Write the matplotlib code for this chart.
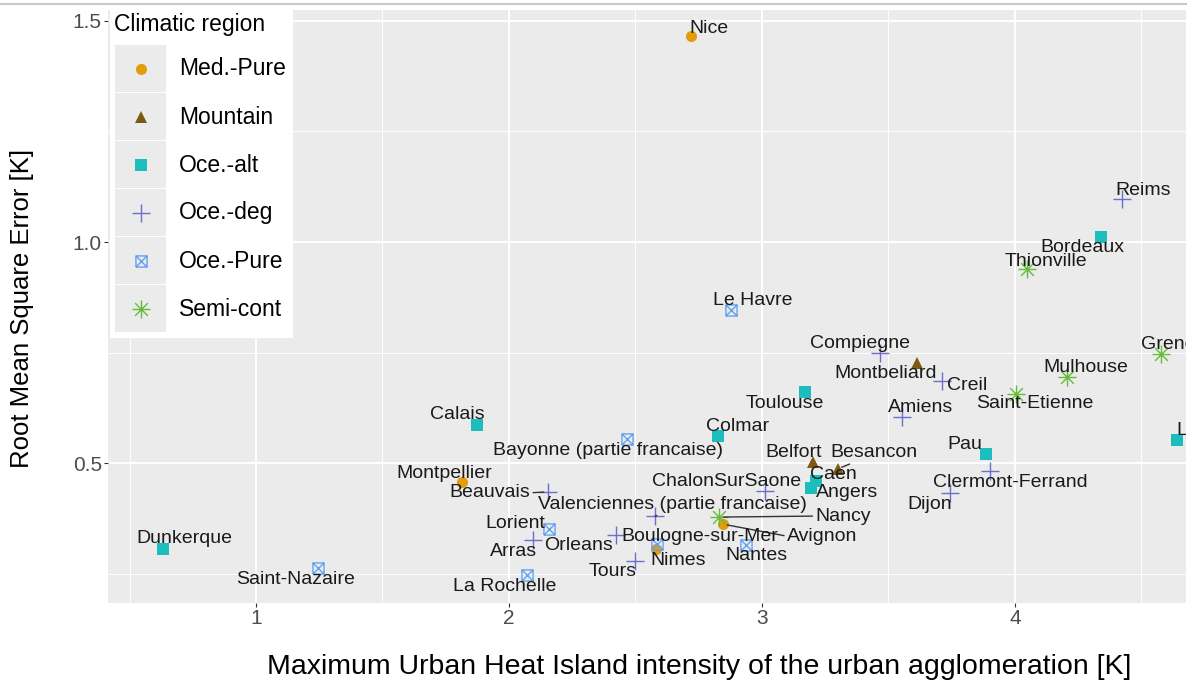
import matplotlib.pyplot as plt
from matplotlib.path import Path
from matplotlib.lines import Line2D
from matplotlib.patches import Rectangle
from matplotlib.ticker import FixedLocator

plt.rcParams['font.family'] = ['Liberation Sans', 'DejaVu Sans']

# one row per urban agglomeration
cities = ['Nice', 'Montpellier', 'Nimes', 'Avignon',
          'Montbeliard', 'Belfort', 'Besancon',
          'Calais', 'Colmar', 'Toulouse', 'Caen', 'Angers', 'Pau', 'Bordeaux',
          'Dunkerque', 'Lyon',
          'Reims', 'Compiegne', 'Creil', 'Amiens', 'Clermont-Ferrand', 'Dijon',
          'ChalonSurSaone', 'Beauvais', 'Valenciennes (partie francaise)',
          'Orleans', 'Arras', 'Tours',
          'Le Havre', 'Bayonne (partie francaise)', 'Lorient', 'Boulogne-sur-Mer',
          'Nantes', 'La Rochelle', 'Saint-Nazaire',
          'Thionville', 'Grenoble', 'Mulhouse', 'Saint-Etienne', 'Nancy']
uhi_max = [2.719, 1.814, 2.581, 2.846,
           3.613, 3.202, 3.300,
           1.874, 2.826, 3.170, 3.213, 3.194, 3.885, 4.340,
           0.632, 4.640,
           4.423, 3.466, 3.711, 3.553, 3.901, 3.743,
           3.012, 2.154, 2.577,
           2.423, 2.095, 2.498,
           2.877, 2.466, 2.158, 2.585,
           2.937, 2.071, 1.245,
           4.047, 4.577, 4.206, 4.004, 2.830]
rmse = [1.465, 0.458, 0.307, 0.363,
        0.727, 0.503, 0.488,
        0.587, 0.562, 0.661, 0.460, 0.445, 0.521, 1.011,
        0.307, 0.553,
        1.097, 0.749, 0.686, 0.605, 0.483, 0.433,
        0.438, 0.436, 0.381,
        0.339, 0.327, 0.280,
        0.847, 0.555, 0.352, 0.318,
        0.316, 0.248, 0.264,
        0.939, 0.747, 0.695, 0.657, 0.379]
region = (['Med.-Pure'] * 4 + ['Mountain'] * 3 + ['Oce.-alt'] * 9
          + ['Oce.-deg'] * 12 + ['Oce.-Pure'] * 7 + ['Semi-cont'] * 5)

regions = ['Med.-Pure', 'Mountain', 'Oce.-alt', 'Oce.-deg', 'Oce.-Pure', 'Semi-cont']

# ggplot-like shapes: square with a cross, and an eight-spoke asterisk
M, L = Path.MOVETO, Path.LINETO
square_cross = Path([(-1, -1), (1, -1), (1, 1), (-1, 1), (-1, -1),
                     (-1, -1), (1, 1), (-1, 1), (1, -1)],
                    [M, L, L, L, L, M, L, M, L])
d = 0.7071
asterisk = Path([(-1, 0), (1, 0), (0, -1), (0, 1),
                 (-d, -d), (d, d), (-d, d), (d, -d)],
                [M, L, M, L, M, L, M, L])

styles = {
    'Med.-Pure': dict(marker='o', color='#E39D0C', ms=8, mew=0),
    'Mountain': dict(marker='^', color='#7D5A12', ms=9, mew=0),
    'Oce.-alt': dict(marker='s', color='#1DBDBD', ms=8, mew=0),
    'Oce.-deg': dict(marker='+', color='#6E6ECC', ms=13, mew=1.0),
    'Oce.-Pure': dict(marker=square_cross, color='#64A2F2', ms=8, mew=1.0,
                      mfc='none'),
    'Semi-cont': dict(marker=asterisk, color='#66BB3A', ms=13, mew=1.0),
}

# label placement in pixels from the point; relpos set where a leader line is drawn
label_offsets = {
    'Nice': (18, 8), 'Reims': (21, 9), 'Bordeaux': (-19, -10),
    'Thionville': (19, 8), 'Le Havre': (22, 9), 'Grenoble': (20, 10),
    'Compiegne': (-20, 10), 'Montbeliard': (-31, -11), 'Creil': (25, -4),
    'Mulhouse': (19, 10), 'Saint-Etienne': (19, -10), 'Toulouse': (-20, -11),
    'Amiens': (19, 9), 'Calais': (-20, 10), 'Colmar': (20, 10),
    'Bayonne (partie francaise)': (-19, -11), 'Pau': (-21, 10),
    'Belfort': (-19, 10), 'Besancon': (36, 16), 'Caen': (18, 7),
    'Angers': (36, -5), 'Clermont-Ferrand': (20, -11), 'Dijon': (-20, -11),
    'ChalonSurSaone': (-38, 9), 'Montpellier': (-18, 9), 'Beauvais': (-58, -1),
    'Valenciennes (partie francaise)': (17, 12), 'Nancy': (124, 1),
    'Avignon': (99, -12), 'Lorient': (-34, 6), 'Arras': (-20, -11),
    'Orleans': (-38, -11), 'Boulogne-sur-Mer': (43, 8), 'Nimes': (22, -12),
    'Tours': (-22, -11), 'Nantes': (10, -11), 'La Rochelle': (-22, -11),
    'Dunkerque': (21, 10), 'Saint-Nazaire': (-22, -11), 'Lyon': (20, 10),
}
leaders = {
    'Besancon': (0.3, 0.0), 'Beauvais': (1.0, 0.5),
    'Valenciennes (partie francaise)': (0.47, 0.0),
    'Nancy': (0.0, 0.5), 'Avignon': (0.0, 0.5),
}

W, H = 1193, 685
fig = plt.figure(figsize=(W / 100, H / 100), dpi=100)
ax = fig.add_axes([108 / W, 1 - 603 / H, (1186 - 108) / W, (603 - 10) / H])
ax.set_facecolor('#EBEBEB')
for s in ax.spines.values():
    s.set_visible(False)

ax.set_xlim(0.415, 4.676)
ax.set_ylim(0.185, 1.524)
ax.set_xticks([1, 2, 3, 4])
ax.set_yticks([0.5, 1.0, 1.5])
ax.set_yticklabels(['0.5', '1.0', '1.5'])
ax.xaxis.set_minor_locator(FixedLocator([0.5, 1.5, 2.5, 3.5, 4.5]))
ax.yaxis.set_minor_locator(FixedLocator([0.25, 0.75, 1.25]))
ax.grid(which='major', color='white', lw=1.4)
ax.grid(which='minor', color='white', lw=0.7)
ax.set_axisbelow(True)
ax.tick_params(which='major', length=3, width=0.8, color='#333333',
               labelsize=15, labelcolor='#4D4D4D', pad=1.5)
ax.tick_params(which='minor', length=0)

for r in regions:
    idx = [i for i, g in enumerate(region) if g == r]
    st = dict(styles[r])
    color = st.pop('color')
    ax.plot([uhi_max[i] for i in idx], [rmse[i] for i in idx], ls='none',
            mfc=st.pop('mfc', color), mec=color, zorder=3, **st)

for name, x, y in zip(cities, uhi_max, rmse):
    kw = dict(xytext=label_offsets[name], textcoords='offset pixels',
              ha='center', va='center', fontsize=14, color='#1A1A1A',
              clip_on=True, zorder=4)
    if name in leaders:
        kw['arrowprops'] = dict(arrowstyle='-', color='#333333', lw=1.0,
                                shrinkA=0, shrinkB=3, relpos=leaders[name])
    ax.annotate(name, (x, y), **kw)

ax.set_xlabel('Maximum Urban Heat Island intensity of the urban agglomeration [K]',
              fontsize=20.5, color='black', va='center')
ax.xaxis.set_label_coords(0.5487, -0.108)
ax.set_ylabel('Root Mean Square Error [K]', fontsize=18.5, color='black',
              va='center')
ax.yaxis.set_label_coords(-0.0798, 0.4975)

# legend drawn in its own box, coordinates in pixels
leg = fig.add_axes([110 / W, 1 - 338 / H, (293 - 110) / W, (338 - 8) / H])
leg.set_xlim(110, 293)
leg.set_ylim(338, 8)
leg.set_facecolor('white')
leg.set_xticks([])
leg.set_yticks([])
for s in leg.spines.values():
    s.set_visible(False)
leg.text(114, 25, 'Climatic region', fontsize=16.5, ha='left', va='center')
for i, r in enumerate(regions):
    y0 = 45 + 48 * i
    leg.add_patch(Rectangle((115, y0), 51, 47, color='#EBEBEB', lw=0))
    st = dict(styles[r])
    color = st.pop('color')
    leg.plot([140.5], [y0 + 24], ls='none', mfc=st.pop('mfc', color),
             mec=color, **st)
    leg.text(179, y0 + 24, r, fontsize=16.5, ha='left', va='center')

fig.add_artist(Line2D([0, 1186 / W], [1 - 4 / H] * 2, color='#C8C8C8', lw=1.5))

fig.savefig('out.png', dpi=100)
